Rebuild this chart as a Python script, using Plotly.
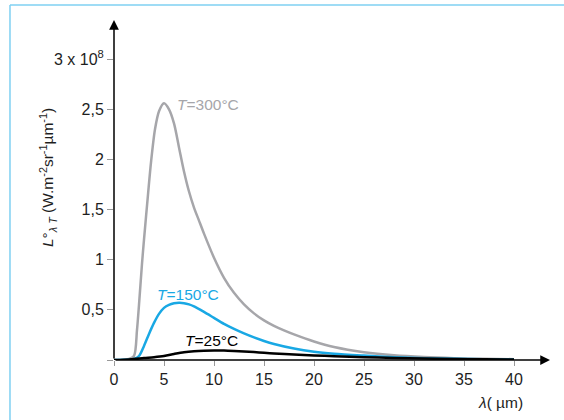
import plotly.graph_objects as go

# Wavelength (µm) grids and radiance values (units of 1e8 W.m-2.sr-1.µm-1)
lam_300 = [0, 1, 1.5, 2, 2.3, 2.5, 2.8, 3, 3.4, 3.7, 4.1, 4.5, 5, 5.5, 6, 6.5, 7, 7.5, 8,
           8.5, 9, 10, 11, 12, 13, 14, 15, 16, 17, 18, 20, 22, 25, 28, 31, 34, 37, 40]
L_300 = [0, 0.003, 0.01, 0.04, 0.3, 0.55, 0.96, 1.2, 1.65, 1.97, 2.3, 2.48, 2.56, 2.50, 2.36,
         2.12, 1.88, 1.68, 1.52, 1.39, 1.26, 1.02, 0.82, 0.67, 0.555, 0.465, 0.395, 0.34,
         0.295, 0.255, 0.185, 0.13, 0.078, 0.047, 0.029, 0.018, 0.012, 0.008]

lam_150 = [0, 1, 2, 2.5, 3, 3.5, 4, 4.5, 5, 5.5, 6, 6.5, 7, 7.5, 8, 9, 10, 11, 12, 13, 14,
           15, 16, 18, 20, 22, 25, 28, 31, 34, 37, 40]
L_150 = [0, 0.002, 0.01, 0.04, 0.14, 0.26, 0.37, 0.46, 0.52, 0.55, 0.565, 0.57, 0.567,
         0.555, 0.535, 0.48, 0.42, 0.36, 0.31, 0.265, 0.225, 0.19, 0.16, 0.115, 0.083, 0.063,
         0.044, 0.028, 0.018, 0.012, 0.008, 0.005]

lam_25 = [0, 1, 2, 3, 4, 5, 6, 7, 8, 9, 10, 11, 12, 13, 14, 15, 16, 18, 20, 22, 25, 28, 31,
          34, 37, 40]
L_25 = [0, 0.003, 0.01, 0.02, 0.028, 0.04, 0.06, 0.078, 0.088, 0.093, 0.095, 0.094, 0.09,
        0.085, 0.079, 0.072, 0.066, 0.055, 0.046, 0.038, 0.028, 0.02, 0.014, 0.01, 0.007,
        0.005]

x_ticks = [0, 5, 10, 15, 20, 25, 30, 35, 40]
x_ticktext = ["0", "5", "10", "15", "20", "25", "30", "35", "40"]
y_ticks = [0, 0.5, 1, 1.5, 2, 2.5, 3]
y_ticktext = ["", "0,5", "1", "1,5", "2", "2,5", "3 x 10<sup>8</sup>"]

GRAY = "#a6a6aa"
BLUE = "#19a8e4"
BLACK = "#000000"
FRAME = "#7fd0f2"
FONT = "Liberation Sans, Arial, sans-serif"
TXT = "#1e1e1e"

fig = go.Figure()
fig.add_trace(go.Scatter(x=lam_300, y=L_300, mode="lines",
                         line=dict(color=GRAY, width=2.5, shape="spline", smoothing=0.8)))
fig.add_trace(go.Scatter(x=lam_150, y=L_150, mode="lines",
                         line=dict(color=BLUE, width=2.5, shape="spline", smoothing=0.8)))
fig.add_trace(go.Scatter(x=lam_25, y=L_25, mode="lines",
                         line=dict(color=BLACK, width=2.5, shape="spline", smoothing=0.8)))

annotations = [
    # axis arrows
    dict(x=43.6, y=0, ax=0, ay=0, xref="x", yref="y", axref="x", ayref="y", text="",
         showarrow=True, arrowhead=2, arrowsize=1.3, arrowwidth=1.5, arrowcolor="black",
         standoff=0, startstandoff=0),
    dict(x=0, y=3.39, ax=0, ay=0, xref="x", yref="y", axref="x", ayref="y", text="",
         showarrow=True, arrowhead=2, arrowsize=1.3, arrowwidth=1.5, arrowcolor="black",
         standoff=0, startstandoff=0),
    # curve labels
    dict(x=9.4, y=2.55, xref="x", yref="y", text="<i>T</i>=300°C", showarrow=False,
         font=dict(family=FONT, size=15.5, color=GRAY)),
    dict(x=7.35, y=0.658, xref="x", yref="y", text="<i>T</i>=150°C", showarrow=False,
         font=dict(family=FONT, size=15.5, color=BLUE)),
    dict(x=9.75, y=0.19, xref="x", yref="y", text="<i>T</i>=25°C", showarrow=False,
         font=dict(family=FONT, size=15.5, color=BLACK)),
    # axis titles
    dict(x=38.6, y=-0.122, xref="x", yref="paper", xanchor="center", yanchor="middle",
         text="<i>λ</i>( µm)", showarrow=False,
         font=dict(family=FONT, size=15.5, color=TXT)),
    dict(x=-0.15, y=0.5275, xref="paper", yref="paper", xanchor="center", yanchor="middle",
         textangle=-90, showarrow=False,
         text="<i>L</i>°<sub><i>λ T</i></sub> (W.m<sup>-2</sup>sr<sup>-1</sup>µm<sup>-1</sup>)",
         font=dict(family=FONT, size=15.5, color=TXT)),
]

shapes = [
    dict(type="line", xref="paper", yref="paper", x0=-0.2364, x1=1.03, y0=1.029, y1=1.029,
         line=dict(color=FRAME, width=1.5)),
    dict(type="line", xref="paper", yref="paper", x0=-0.2364, x1=-0.2364, y0=1.029, y1=-0.2,
         line=dict(color=FRAME, width=1.5)),
]

fig.update_layout(
    width=564, height=420,
    margin=dict(l=114, r=10, t=15, b=60),
    paper_bgcolor="white", plot_bgcolor="white",
    showlegend=False,
    font=dict(family=FONT, size=16, color=TXT),
    annotations=annotations,
    shapes=shapes,
    xaxis=dict(range=[0, 44], tickvals=x_ticks, ticktext=x_ticktext, ticks="outside",
               ticklen=5, tickwidth=1, tickcolor="#999999", showgrid=False, zeroline=False,
               showline=False, fixedrange=True, automargin=False),
    yaxis=dict(range=[0, 3.44], tickvals=y_ticks, ticktext=y_ticktext, ticks="outside",
               ticklen=6, tickwidth=1, tickcolor="#999999", showgrid=False, zeroline=False,
               showline=False, fixedrange=True, automargin=False),
)

fig.write_html("out.html", config={"displayModeBar": False},
               post_script="document.body.style.margin='0';document.body.style.padding='0';")
